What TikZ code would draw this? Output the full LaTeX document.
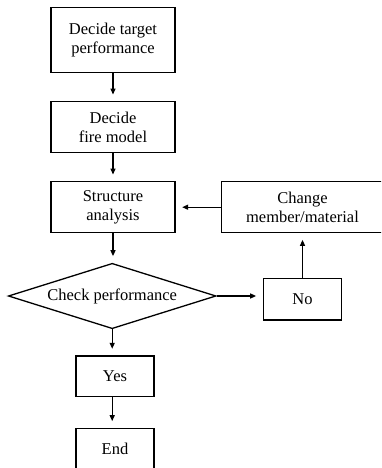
\documentclass[tikz,border=0pt]{standalone}
\usepackage{fontspec}
\setmainfont{Liberation Serif}
\usetikzlibrary{arrows.meta,shapes.geometric}
\begin{document}
\begin{tikzpicture}[x=1pt,y=-1pt,
  every node/.style={font=\fontsize{16.5}{19.3}\selectfont, align=center, inner sep=0pt},
  box/.style={draw, line width=1.3pt, rectangle},
  dec/.style={draw, line width=1.3pt, diamond, shape aspect=3.18},
  conn/.style={line width=1.3pt, -{Triangle[length=6pt,width=5pt]}, shorten >=6.5pt}]
\useasboundingbox (0,0) rectangle (381,468);
\clip (0,0) rectangle (381,468);
\node[box, minimum width=124pt, minimum height=65.4pt] (b1) at (113,40) {Decide target\\performance};
\node[box, minimum width=124pt, minimum height=51pt] (b2) at (113,127.2) {Decide\\fire model};
\node[box, minimum width=124pt, minimum height=51pt] (b3) at (113,207.2) {Structure\\analysis};
\node[box, minimum width=161.6pt, minimum height=51pt] (ch) at (302.5,207.2) {Change\\member/material};
\node[dec, minimum width=207.7pt, minimum height=65.4pt] (dia) at (112.2,296) {Check performance};
\node[box, minimum width=78.4pt, minimum height=41.7pt] (no) at (302.5,299.2) {No};
\node[box, minimum width=78pt, minimum height=40.7pt] (yes) at (115,376.3) {Yes};
\node[box, minimum width=78pt, minimum height=41pt] (end) at (115,448.8) {End};
\draw[conn] (b1.south) -- (b2.north);
\draw[conn] (b2.south) -- (b3.north);
\draw[conn] (b3.south) -- (b3.south |- dia.north);
\draw[conn] (dia.east) -- (dia.east -| no.west);
\draw[conn] (no.north) -- (ch.south);
\draw[conn] (ch.west) -- (b3.east);
\draw[conn] (dia.south) -- (dia.south |- yes.north);
\draw[conn] (yes.south -| dia.south) -- (dia.south |- end.north);
\end{tikzpicture}
\end{document}
